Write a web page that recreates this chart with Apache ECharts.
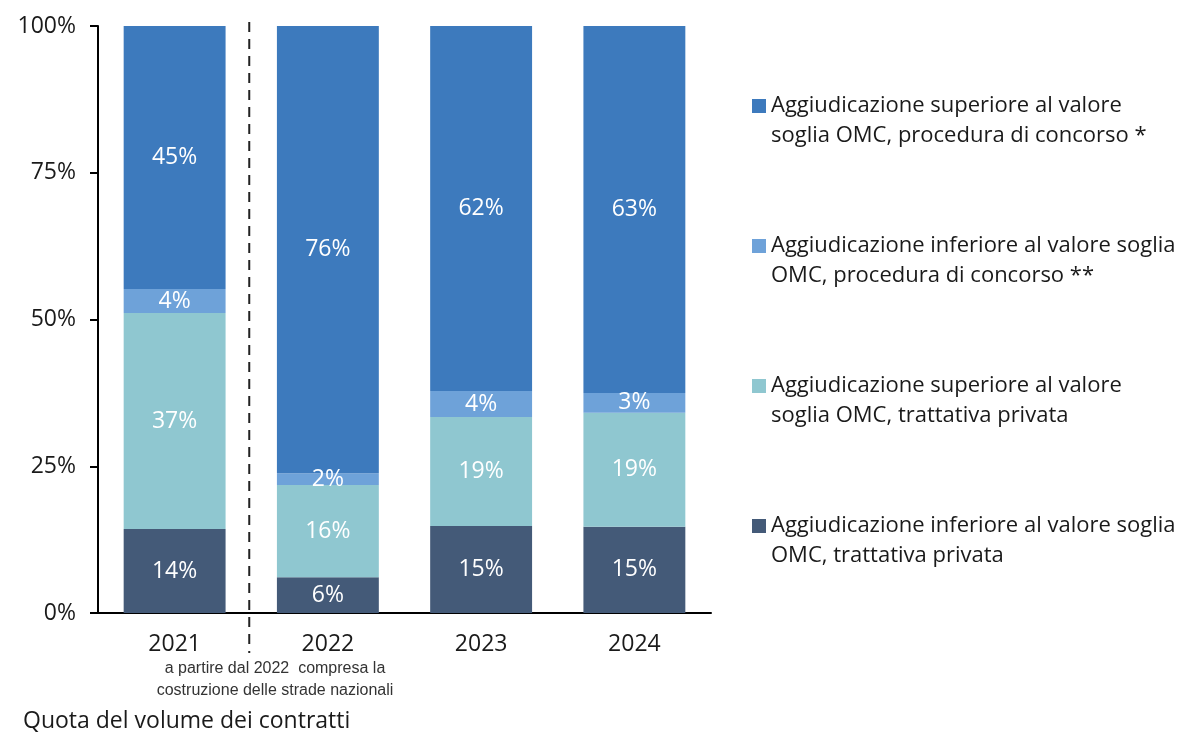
<!DOCTYPE html>
<html>
<head>
<meta charset="utf-8">
<script src="https://cdn.jsdelivr.net/npm/echarts@6/dist/echarts.min.js"></script>
<style>
  html, body { margin: 0; padding: 0; background: #fff; }
  #chart { width: 1187px; height: 734px; }
</style>
</head>
<body>
<div id="chart"></div>
<script>
const years = ["2021", "2022", "2023", "2024"]
const yTicks = [0, 25, 50, 75, 100]

// bottom to top
const belowPrivate = [14.3, 6.1, 14.8, 14.7]
const abovePrivate = [36.8, 15.7, 18.6, 19.4]
const belowTender = [4.1, 2.0, 4.4, 3.4]
const aboveTender = [44.8, 76.2, 62.2, 62.5]

const names = [
  "Aggiudicazione inferiore al valore soglia\nOMC, trattativa privata",
  "Aggiudicazione superiore al valore\nsoglia OMC, trattativa privata",
  "Aggiudicazione inferiore al valore soglia\nOMC, procedura di concorso **",
  "Aggiudicazione superiore al valore\nsoglia OMC, procedura di concorso *",
]
const colors = ["#445a78", "#8fc7d0", "#6ea2d9", "#3d7abd"]
const values = [belowPrivate, abovePrivate, belowTender, aboveTender]

const font = "'Open Sans', 'Noto Sans', sans-serif"

const chart = echarts.init(document.getElementById("chart"))

const series = values.map((v, i) => ({
  name: names[i],
  type: "bar",
  stack: "total",
  barWidth: "66.5%",
  data: v,
  itemStyle: { color: colors[i] },
  label: {
    show: true,
    position: "inside",
    color: "#fff",
    fontFamily: font,
    fontSize: 23,
    formatter: (p) => Math.round(p.value) + "%",
  },
}))

// square on the first text line, tiny dot keeps the box tall
const legendIcon = "path://M0,0h14v14h-14z M6.99,43.99h0.02v0.01h-0.02z"

const option = {
  animation: false,
  textStyle: { fontFamily: font },
  grid: { left: 98, right: 476, top: 26, bottom: 121, containLabel: false },
  legend: {
    orient: "vertical",
    left: 747,
    top: 86,
    data: names.slice().reverse(),
    icon: legendIcon,
    itemWidth: 14,
    itemHeight: 44,
    itemGap: 80,
    textStyle: { fontSize: 22, color: "#1a1a1a", lineHeight: 30, fontFamily: font },
    selectedMode: false,
  },
  xAxis: {
    type: "category",
    data: years,
    axisLine: { lineStyle: { color: "#000", width: 2 } },
    axisTick: { show: false },
    axisLabel: { fontSize: 23, color: "#1a1a1a", margin: 20 },
  },
  yAxis: {
    type: "value",
    min: yTicks[0],
    max: yTicks[yTicks.length - 1],
    interval: 25,
    axisLine: { show: true, lineStyle: { color: "#000", width: 2 } },
    axisTick: { show: true, length: 8, lineStyle: { color: "#000", width: 2 } },
    splitLine: { show: false },
    axisLabel: { fontSize: 23, color: "#1a1a1a", margin: 22, formatter: "{value}%" },
  },
  series: series,
}
chart.setOption(option)

// dashed separator between 2021 and 2022, plus notes
const x0 = chart.convertToPixel({ xAxisIndex: 0 }, years[0])
const x1 = chart.convertToPixel({ xAxisIndex: 0 }, years[1])
const sepX = (x0 + x1) / 2 - 2
const yTop = chart.convertToPixel({ yAxisIndex: 0 }, 100)
const yBot = chart.convertToPixel({ yAxisIndex: 0 }, 0)

chart.setOption({
  graphic: [
    {
      type: "line",
      shape: { x1: sepX, y1: yTop - 4, x2: sepX, y2: yBot + 40 },
      style: { stroke: "#222", lineWidth: 2, lineDash: [10, 7] },
      z: 10,
    },
    {
      type: "text",
      x: 275,
      y: 658,
      style: {
        text: "a partire dal 2022  compresa la\ncostruzione delle strade nazionali",
        font: "normal 400 16px 'Liberation Sans Narrow', sans-serif",
        fill: "#333",
        align: "center",
        lineHeight: 22,
      },
    },
    {
      type: "text",
      left: 23,
      top: 710,
      style: {
        text: "Quota del volume dei contratti",
        font: "23px 'Open Sans', sans-serif",
        fill: "#1a1a1a",
      },
    },
  ],
})
</script>
</body>
</html>
